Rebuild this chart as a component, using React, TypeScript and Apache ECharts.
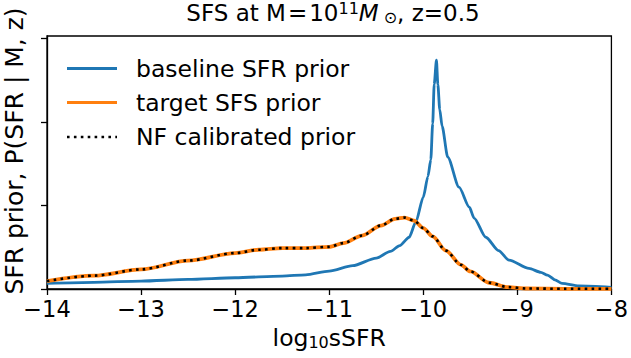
import { useEffect, useRef } from "react";
import * as echarts from "echarts";

// x ticks and axis
const xTicks = [-14, -13, -12, -11, -10, -9, -8];
const yTicks = [0, 1, 2, 3];

// baseline SFR prior (blue)
const baselineX = [
  -14.0, -13.5, -13.0, -12.5, -12.0, -11.5, -11.25, -11.0, -10.75, -10.5, -10.35, -10.25, -10.15,
  -10.08, -10.0, -9.95, -9.92, -9.9, -9.884, -9.86, -9.845, -9.825, -9.8, -9.74, -9.62, -9.51,
  -9.46, -9.335, -9.2, -9.088, -8.876, -8.75, -8.68, -8.6, -8.525, -8.345, -8.0,
];
const baselineY = [
  0.068, 0.08, 0.095, 0.115, 0.135, 0.155, 0.17, 0.215, 0.28, 0.37, 0.45, 0.52, 0.62,
  0.8, 1.1, 1.35, 1.55, 1.98, 2.45, 2.74, 2.45, 2.15, 1.95, 1.58, 1.22, 0.98,
  0.85, 0.62, 0.46, 0.345, 0.246, 0.2, 0.167, 0.11, 0.068, 0.036, 0.02,
];

// target SFS prior (orange)
const targetX = [
  -14.0, -13.5, -13.0, -12.5, -12.0, -11.75, -11.5, -11.25, -11.0, -10.85, -10.65, -10.45, -10.3,
  -10.2, -10.1, -10.0, -9.9, -9.76, -9.6, -9.5, -9.3, -9.1, -8.9, -8.5, -8.0,
];
const targetY = [
  0.095, 0.16, 0.235, 0.34, 0.43, 0.47, 0.49, 0.49, 0.505, 0.55, 0.64, 0.76, 0.84,
  0.855, 0.82, 0.73, 0.63, 0.46, 0.29, 0.21, 0.075, 0.022, 0.006, 0.002, 0.001,
];

// NF calibrated prior (black dotted)
const nfX = [
  -14.0, -13.5, -13.0, -12.5, -12.0, -11.75, -11.5, -11.25, -11.0, -10.85, -10.65, -10.45, -10.3,
  -10.2, -10.1, -10.0, -9.9, -9.76, -9.6, -9.5, -9.3, -9.1, -8.9, -8.5, -8.0,
];
const nfY = [
  0.095, 0.16, 0.235, 0.34, 0.43, 0.47, 0.49, 0.49, 0.505, 0.55, 0.64, 0.76, 0.84,
  0.855, 0.82, 0.73, 0.63, 0.46, 0.29, 0.21, 0.075, 0.022, 0.006, 0.002, 0.001,
];

const seriesNames = ["baseline SFR prior", "target SFS prior", "NF calibrated prior"];
const colors = ["#1f77b4", "#ff7f0e", "#000000"];

const FONT = "DejaVu Sans";

export default function App() {
  const ref = useRef<HTMLDivElement>(null);
  useEffect(() => {
    if (!ref.current) return;
    const chart = echarts.init(ref.current, null, { renderer: "svg" });
    const pairs = (xs: number[], ys: number[]) => xs.map((x, i) => [x, ys[i]]);
    const gl = 47, gr = 18.3, gt = 36, gb = 69;
    const legendY = [68.5, 102.5, 137];
    chart.setOption({
      animation: false,
      backgroundColor: "#fff",
      grid: {
        left: gl, right: gr, top: gt, bottom: gb,
        show: true, borderColor: "#000", borderWidth: 1.3, backgroundColor: "transparent",
      },
      xAxis: {
        type: "value", min: -14, max: -8, interval: 1,
        axisLine: { show: true, lineStyle: { color: "#000", width: 1.3 } },
        axisTick: { show: true, length: 6, lineStyle: { color: "#000", width: 1.3 }, customValues: xTicks },
        axisLabel: {
          color: "#000", fontSize: 22.5, fontFamily: FONT, margin: 8,
          customValues: xTicks,
          formatter: (v: number) => String(v).replace("-", "\u2212"),
        },
        splitLine: { show: false },
        name: "{a|log}{b|10}{a|sSFR}",
        nameLocation: "middle",
        nameGap: 37,
        nameTextStyle: {
          color: "#000", fontFamily: FONT, fontSize: 23.5,
          rich: {
            a: { fontSize: 23.5, fontFamily: FONT, color: "#000" },
            b: { fontSize: 16, fontFamily: FONT, color: "#000", padding: [8, 0, 0, 0] },
          },
        },
      },
      yAxis: {
        type: "value", min: 0, max: 3.03,
        axisLine: { show: true, lineStyle: { color: "#000", width: 1.3 } },
        axisTick: { show: true, length: 6, lineStyle: { color: "#000", width: 1.3 }, customValues: yTicks },
        axisLabel: { show: false },
        splitLine: { show: false },
      },
      graphic: [
        {
          type: "text", x: 333, y: 0,
          style: {
            text: "{a|SFS at M}{e|=}{a|10}{s|11}{i|M}{o|\u2299}{a|, z=0.5}",
            align: "center", verticalAlign: "top",
            rich: {
              a: { fontSize: 23, fontFamily: FONT, fill: "#000" },
              e: { fontSize: 23, fontFamily: FONT, fill: "#000", padding: [0, 2, 0, 2] },
              s: { fontSize: 16, fontFamily: FONT, fill: "#000", padding: [0, 0, 10, 0] },
              i: { fontSize: 23, fontFamily: FONT, fontStyle: "italic", fill: "#000" },
              o: { fontSize: 16, fontFamily: FONT, fill: "#000", padding: [9, 0, 0, 5] },
            },
          },
        },
        {
          type: "text", x: 14, y: 151, rotation: Math.PI / 2,
          style: {
            text: "SFR prior, P(SFR | M, z)", fontSize: 25, fontFamily: FONT, fill: "#000",
            align: "center", verticalAlign: "middle",
          },
        },
        ...seriesNames.flatMap((n, i) => [
          {
            type: "line",
            shape: { x1: 67, y1: legendY[i], x2: 117, y2: legendY[i] },
            style: {
              stroke: colors[i], lineWidth: i === 2 ? 2.6 : 3,
              lineDash: i === 2 ? [2.6, 4.3] : undefined,
            },
          },
          {
            type: "text", x: 136, y: legendY[i],
            style: { text: n, fontSize: 23.5, fontFamily: FONT, fill: "#000", align: "left", verticalAlign: "middle" },
          },
        ]),
      ],
      series: [
        {
          name: seriesNames[0], type: "line", data: pairs(baselineX, baselineY),
          showSymbol: false, symbol: "none", smooth: 0.25, smoothMonotone: "x",
          lineStyle: { color: colors[0], width: 2.8 },
        },
        {
          name: seriesNames[1], type: "line", data: pairs(targetX, targetY),
          showSymbol: false, symbol: "none", smooth: 0.3, smoothMonotone: "x",
          lineStyle: { color: colors[1], width: 3.8 },
        },
        {
          name: seriesNames[2], type: "line", data: pairs(nfX, nfY),
          showSymbol: false, symbol: "none", smooth: 0.3, smoothMonotone: "x",
          lineStyle: { color: colors[2], width: 2.6, type: [2.6, 4.3] },
        },
      ],
    });
    return () => chart.dispose();
  }, []);
  return <div ref={ref} style={{ position: "fixed", left: 0, top: 0, width: 631, height: 358 }} />;
}
